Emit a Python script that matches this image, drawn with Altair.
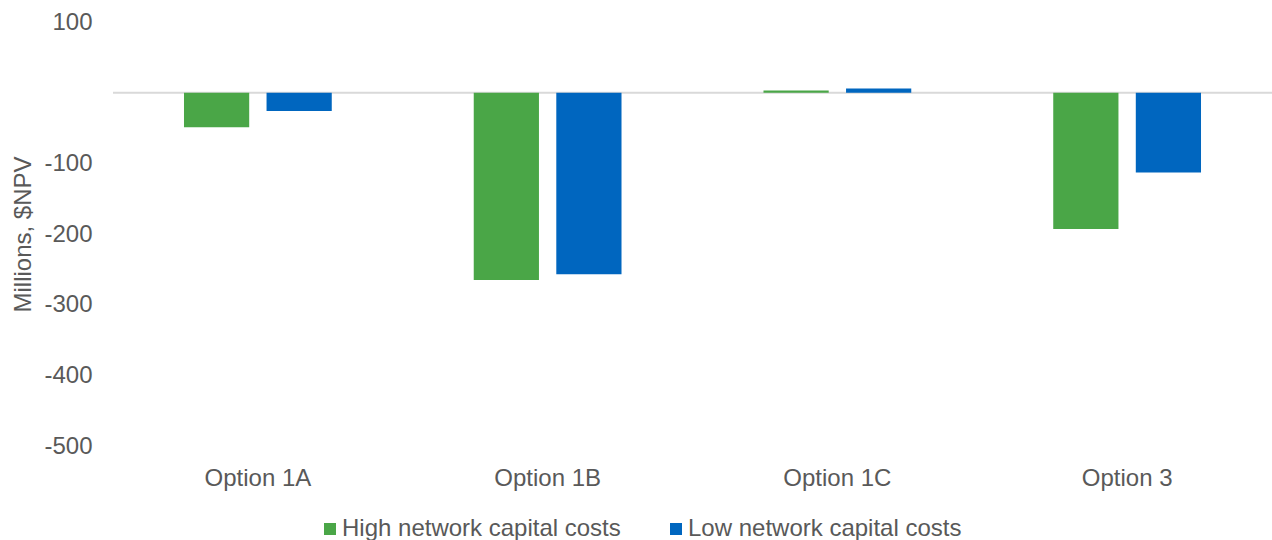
import altair as alt
import pandas as pd

options = ["Option 1A", "Option 1B", "Option 1C", "Option 3"]
series = ["High network capital costs", "Low network capital costs"]
high_values = [-49, -265, 3, -193]
low_values = [-26, -257, 6, -113]
colors = ["#4aa647", "#0066bf"]
y_ticks = [100, -100, -200, -300, -400, -500]

rows = []
for o, h, l in zip(options, high_values, low_values):
    rows.append({"option": o, "series": series[0], "value": h})
    rows.append({"option": o, "series": series[1], "value": l})
df = pd.DataFrame(rows)

font = "Liberation Sans"
grey = "#595959"
fs = 24

bars = alt.Chart(df).mark_bar().encode(
    x=alt.X("option:N", sort=options, title=None,
            scale=alt.Scale(paddingInner=0.49, paddingOuter=0.245),
            axis=alt.Axis(labelAngle=0, domain=False, ticks=False, labelPadding=20,
                          labelFontSize=fs, labelColor=grey, labelFont=font)),
    xOffset=alt.XOffset("series:N", sort=series,
                        scale=alt.Scale(paddingInner=0.21, paddingOuter=0)),
    y=alt.Y("value:Q", title="Millions, $NPV",
            scale=alt.Scale(domain=[-500, 100], nice=False, zero=False),
            axis=alt.Axis(values=y_ticks, grid=False, domain=False, ticks=False,
                          labelExpr="'' + datum.value",
                          labelPadding=21, labelFontSize=fs, labelColor=grey, labelFont=font,
                          titleFontSize=fs, titleColor=grey, titleFont=font,
                          titleFontWeight="normal", titlePadding=8)),
    color=alt.Color("series:N", sort=series,
                    scale=alt.Scale(domain=series, range=colors),
                    legend=alt.Legend(orient="none", legendX=205, legendY=495, direction="horizontal", title=None,
                                      symbolType="square", symbolSize=144,
                                      labelFontSize=fs, labelColor=grey, labelFont=font, labelLimit=400,
                                      columnPadding=43, symbolStrokeWidth=0, labelOffset=0)),
)

zero = alt.Chart(pd.DataFrame({"y": [0]})).mark_rule(color="#d9d9d9", strokeWidth=2).encode(y="y:Q")

chart = alt.layer(zero, bars).properties(
    width=1159, height=424,
    autosize=alt.AutoSizeParams(type="none"),
    padding={"left": 113, "top": 22, "right": 0, "bottom": 94},
).configure_view(stroke=None)

chart.save("out.html", embed_options={"renderer": "svg", "actions": False})
